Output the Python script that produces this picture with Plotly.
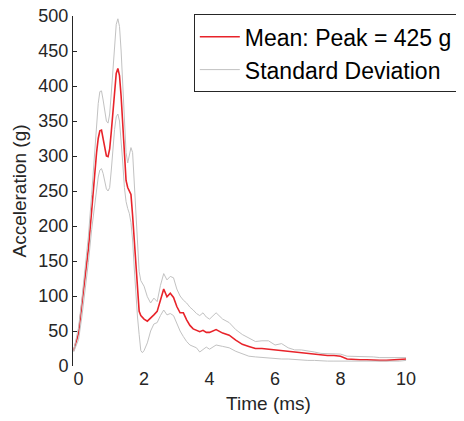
import plotly.graph_objects as go

# time in ms (the record starts slightly before 0)
time_ms = [
    -0.15, 0.0, 0.1, 0.2, 0.3, 0.4, 0.5, 0.55, 0.6, 0.65, 0.7, 0.75, 0.8, 0.85,
    0.9, 0.95, 1.0, 1.05, 1.1, 1.15, 1.2, 1.25, 1.3, 1.35, 1.4, 1.45, 1.5, 1.55,
    1.6, 1.65, 1.7, 1.75, 1.8, 1.85, 1.9, 1.95, 2.0, 2.1, 2.2, 2.3, 2.4, 2.5,
    2.6, 2.7, 2.8, 2.9, 3.0, 3.1, 3.2, 3.3, 3.4, 3.5, 3.6, 3.7, 3.8, 3.9, 4.0,
    4.2, 4.4, 4.6, 4.8, 5.0, 5.2, 5.4, 5.6, 5.8, 6.0, 6.2, 6.4, 6.6, 6.8, 7.0,
    7.2, 7.4, 7.6, 7.8, 8.0, 8.2, 8.4, 8.6, 8.8, 9.0, 9.2, 9.4, 9.6, 9.8, 10.0,
]

mean_g = [
    22, 47, 88, 128, 168, 222, 282, 305, 325, 336, 337, 325, 310, 300,
    299, 310, 335, 365, 395, 418, 425, 415, 385, 340, 295, 265, 255, 250,
    245, 215, 180, 140, 100, 78, 72, 69, 67, 64, 68, 73, 78, 95,
    110, 99, 104, 98, 85, 76, 76, 66, 58, 53, 51, 49, 51, 48, 48,
    52, 47, 44, 37, 31, 28, 25, 25, 24, 22, 21, 20, 19, 19, 17,
    16, 16, 15, 15, 14, 10, 9, 9, 9, 8, 8, 8, 9, 9, 10,
]

upper_g = [
    22, 55, 95, 138, 185, 245, 310, 345, 375, 392, 393, 380, 362, 350,
    347, 360, 390, 425, 462, 488, 496, 485, 450, 395, 345, 305, 290, 300,
    312, 305, 260, 210, 170, 135, 122, 117, 114, 99, 90, 97, 92, 115,
    132, 123, 128, 126, 110, 100, 94, 90, 84, 80, 75, 72, 76, 70, 67,
    76, 67, 62, 52, 45, 40, 35, 36, 36, 30, 32, 26, 23, 23, 22,
    20, 18, 18, 17, 17, 14, 14, 13, 13, 13, 12, 12, 12, 12, 12,
]

lower_g = [
    20, 38, 70, 108, 148, 195, 235, 255, 270, 280, 282, 275, 262, 253,
    250, 255, 280, 310, 338, 356, 360, 350, 325, 290, 255, 235, 225, 218,
    205, 180, 140, 100, 70, 45, 22, 19, 22, 33, 50, 60, 62, 72,
    80, 73, 75, 72, 60, 50, 42, 35, 30, 28, 26, 20, 24, 27, 24,
    30, 28, 26, 21, 17, 14, 13, 12, 12, 11, 10, 10, 9, 9, 8,
    8, 7, 7, 7, 7, 6, 6, 6, 6, 6, 6, 6, 6, 7, 8,
]

y_ticks = [0, 50, 100, 150, 200, 250, 300, 350, 400, 450, 500]
x_ticks = [0, 2, 4, 6, 8, 10]

FONT = "Liberation Sans, Arial, Helvetica, sans-serif"
GRAY = "#c2c2c2"
RED = "#e8232a"

fig = go.Figure()
fig.add_trace(go.Scatter(
    x=time_ms, y=mean_g, mode="lines", name="Mean: Peak = 425 g",
    line=dict(color=RED, width=1.6),
))
fig.add_trace(go.Scatter(
    x=time_ms, y=upper_g, mode="lines", name="Standard Deviation",
    line=dict(color=GRAY, width=1),
))
fig.add_trace(go.Scatter(
    x=time_ms, y=lower_g, mode="lines", showlegend=False,
    line=dict(color=GRAY, width=1),
))

# the page body adds an 8px margin, so the figure is drawn 8px in from the corner
fig.update_layout(
    width=456,
    height=413,
    margin=dict(l=65, r=0, t=8, b=55),
    paper_bgcolor="white",
    plot_bgcolor="white",
    font=dict(family=FONT, color="#262626"),
    legend=dict(
        x=0.309, y=1.005, xanchor="left", yanchor="top",
        bgcolor="white", bordercolor="#262626", borderwidth=1,
        font=dict(family=FONT, size=23, color="black"),
        itemwidth=40, tracegroupgap=0,
    ),
)
fig.update_xaxes(
    range=[-0.17, 11.77],
    tickvals=x_ticks,
    showline=False, showgrid=False, zeroline=False,
    ticks="", tickfont=dict(size=18),
    title=dict(text="Time (ms)", font=dict(size=19), standoff=8),
    automargin=False,
)
fig.update_yaxes(
    range=[0, 500],
    tickvals=y_ticks,
    showline=True, linecolor="#262626", linewidth=1,
    showgrid=False, zeroline=False,
    ticks="inside", ticklen=4, tickcolor="#262626",
    tickfont=dict(size=18), ticklabeloverflow="allow",
    title=dict(text="Acceleration (g)", font=dict(size=19), standoff=6),
    automargin=False,
)

fig.write_html("out.html")
